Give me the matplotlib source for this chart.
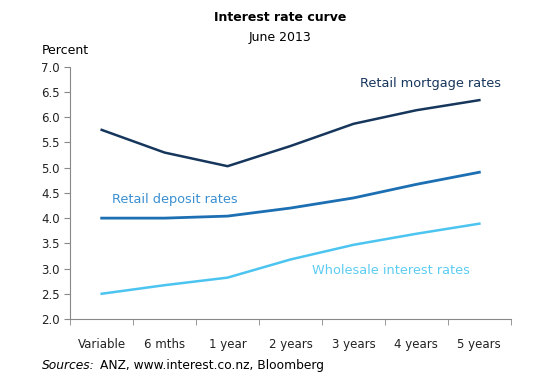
import matplotlib.pyplot as plt
import numpy as np

categories = ["Variable", "6 mths", "1 year", "2 years", "3 years", "4 years", "5 years"]
mortgage = [5.75, 5.30, 5.03, 5.43, 5.87, 6.14, 6.34]
deposit = [4.00, 4.00, 4.04, 4.20, 4.40, 4.67, 4.91]
wholesale = [2.50, 2.67, 2.82, 3.18, 3.47, 3.69, 3.89]
yticks = [2.0, 2.5, 3.0, 3.5, 4.0, 4.5, 5.0, 5.5, 6.0, 6.5, 7.0]

c_mort = "#16365c"
c_dep = "#1c6fb2"
c_whole = "#4cc4f0"

plt.rcParams["font.family"] = "DejaVu Sans"

fig = plt.figure(figsize=(5.4, 3.82), dpi=100)
ax = fig.add_axes([0.13, 0.165, 0.816, 0.66])

x = np.arange(len(categories))
ax.plot(x, mortgage, color=c_mort, lw=1.8)
ax.plot(x, deposit, color=c_dep, lw=2.0)
ax.plot(x, wholesale, color=c_whole, lw=1.8)

ax.set_xlim(-0.5, len(categories) - 0.5)
ax.set_ylim(2.0, 7.0)
ax.set_yticks(yticks)
ax.set_yticklabels([f"{v:.1f}" for v in yticks])
ax.set_xticks(x)
ax.set_xticklabels(categories)
ax.set_xticks(np.arange(-0.5, len(categories)), minor=True)
ax.tick_params(axis="x", which="major", length=0, pad=14, labelsize=8.5, colors="#222222")
ax.tick_params(axis="x", which="minor", length=4, color="#888888", direction="out")
ax.tick_params(axis="y", length=4, color="#888888", labelsize=8.5, colors="#222222")
ax.tick_params(axis="y", color="#888888")

for s in ["top", "right"]:
    ax.spines[s].set_visible(False)
for s in ["left", "bottom"]:
    ax.spines[s].set_color("#888888")

# series labels
ax.text(5.23, 6.6, "Retail mortgage rates", color=c_mort, fontsize=9.3, ha="center")
ax.text(0.17, 4.3, "Retail deposit rates", color="#3a8fd0", fontsize=9.3)
ax.text(4.6, 2.89, "Wholesale interest rates", color="#5cccf2", fontsize=9.3, ha="center")

fig.text(0.518, 0.945, "Interest rate curve", ha="center", fontsize=9, fontweight="bold")
fig.text(0.518, 0.893, "June 2013", ha="center", fontsize=9)
fig.text(0.078, 0.858, "Percent", fontsize=9)
fig.text(0.078, 0.035, "Sources:", fontsize=8.8, style="italic")
fig.text(0.185, 0.035, "ANZ, www.interest.co.nz, Bloomberg", fontsize=8.8)

fig.savefig("out.png", dpi=100)
